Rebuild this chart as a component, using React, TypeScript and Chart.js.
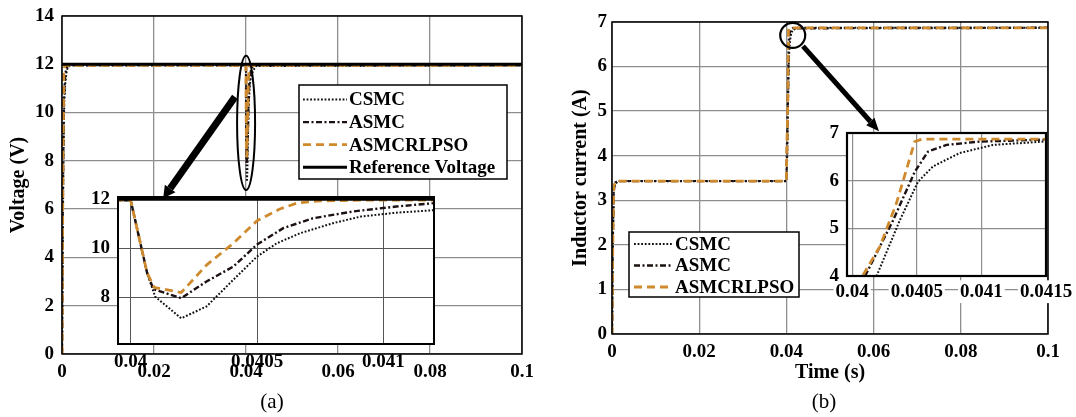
import React, { useEffect, useRef } from 'react';
import { Chart, registerables } from 'chart.js';

Chart.register(...registerables);

const FONT = "'Liberation Serif', 'Times New Roman', serif";

// ---------- Panel (a): output voltage ----------
const csmcVoltT = [0, 0.0003, 0.0005, 0.0007, 0.001, 0.0013, 0.002, 0.04, 0.040065, 0.040097, 0.0402, 0.0403, 0.040406, 0.0405, 0.040578, 0.04067, 0.0408, 0.04091, 0.04105, 0.0412, 0.0416, 0.0422, 0.1];
const csmcVolt = [0, 8, 10.5, 11.2, 11.7, 11.9, 11.96, 11.96, 9.0, 8.02, 7.14, 7.62, 8.71, 9.66, 10.2, 10.61, 11.02, 11.29, 11.45, 11.55, 11.75, 11.93, 11.96];

const asmcVoltT = [0, 0.0002, 0.0004, 0.0007, 0.0012, 0.04, 0.040065, 0.04009, 0.0402, 0.0403, 0.040406, 0.0405, 0.040604, 0.04072, 0.04088, 0.04105, 0.0412, 0.0416, 0.1];
const asmcVolt = [0, 7, 10.5, 11.6, 11.96, 11.96, 9.0, 8.33, 7.96, 8.64, 9.25, 10.15, 10.82, 11.22, 11.5, 11.7, 11.84, 11.96, 11.96];

const rlpsoVoltT = [0, 0.0002, 0.0004, 0.0006, 0.04, 0.040065, 0.040093, 0.0402, 0.040301, 0.040406, 0.0405, 0.04059, 0.04066, 0.04075, 0.0409, 0.1];
const rlpsoVolt = [0, 8, 11.6, 11.96, 11.96, 9.0, 8.4, 8.19, 9.32, 10.2, 11.12, 11.6, 11.85, 11.93, 11.96, 11.96];

const refVoltT = [0, 0.1];
const refVolt = [12, 12];

// ---------- Panel (b): inductor current ----------
const csmcCurT = [0, 0.0002, 0.0004, 0.0008, 0.0015, 0.04, 0.040189, 0.040369, 0.04051, 0.040626, 0.040832, 0.04109, 0.04148, 0.0425, 0.1];
const csmcCur = [0, 2.1, 3.2, 3.38, 3.43, 3.43, 4.0, 5.17, 5.98, 6.3, 6.58, 6.75, 6.82, 6.87, 6.87];

const asmcCurT = [0, 0.0002, 0.0004, 0.0008, 0.0015, 0.04, 0.0401, 0.040317, 0.040485, 0.040587, 0.04073, 0.040987, 0.04147, 0.1];
const asmcCur = [0, 2.2, 3.25, 3.4, 3.43, 3.43, 4.0, 5.17, 6.19, 6.61, 6.75, 6.82, 6.86, 6.87];

const rlpsoCurT = [0, 0.0002, 0.0004, 0.0008, 0.0015, 0.04, 0.04008, 0.040213, 0.040343, 0.04042, 0.040484, 0.04054, 0.1];
const rlpsoCur = [0, 2.3, 3.3, 3.42, 3.43, 3.43, 4.0, 4.61, 5.53, 6.23, 6.82, 6.87, 6.87];

// ---------- Tick labels ----------
const mainTimeTicks = [0, 0.02, 0.04, 0.06, 0.08, 0.1];
const voltTicks = [0, 2, 4, 6, 8, 10, 12, 14];
const curTicks = [0, 1, 2, 3, 4, 5, 6, 7];
const insetATimeTicks = [0.04, 0.0405, 0.041];
const insetAVoltTicks = [8, 10, 12];
const insetBTimeTicks = [0.04, 0.0405, 0.041, 0.0415];
const insetBCurTicks = [4, 5, 6, 7];

// ---------- Styles ----------
const STY: any = {
  CSMC: { color: '#111111', dash: [1.8, 1.8], width: 2 },
  ASMC: { color: '#1c1010', dash: [6, 2.5, 2, 2.5], width: 2.4 },
  RLPSO: { color: '#cf8a2e', dash: [8, 5], width: 2.8 },
  REF: { color: '#000000', dash: [], width: 3 },
};

const MAIN_GRID = { color: '#8e8e8e', width: 1.3 };
const INSET_A_GRID = { color: '#555555', width: 1 };
const INSET_B_GRID = { color: '#8e8e8e', width: 1.2 };

function pts(t: number[], v: number[]) {
  return t.map((x, i) => ({ x, y: v[i] }));
}

function mkDs(label: string, t: number[], v: number[], s: any, order: number) {
  return {
    label,
    data: pts(t, v),
    borderColor: s.color,
    borderDash: s.dash,
    borderWidth: s.width,
    pointRadius: 0,
    tension: 0,
    fill: false,
    order,
    borderCapStyle: 'butt',
    borderJoinStyle: 'round',
  };
}

function axis(o: any) {
  return {
    type: 'linear',
    position: o.vertical ? 'left' : 'bottom',
    min: o.min,
    max: o.max,
    afterBuildTicks: (ax: any) => {
      ax.ticks = o.ticks.map((v: number) => ({ value: v }));
    },
    afterFit: (ax: any) => {
      if (o.vertical) ax.width = o.size;
      else ax.height = o.size;
      ax.paddingTop = 0;
      ax.paddingBottom = 0;
      ax.paddingLeft = 0;
      ax.paddingRight = 0;
    },
    ticks: {
      autoSkip: false,
      maxRotation: 0,
      minRotation: 0,
      padding: o.pad,
      color: '#000',
      font: { family: FONT, size: 19, weight: 'bold' },
      callback: (v: any) => String(v),
      showLabelBackdrop: !!o.backdrop,
      backdropColor: '#ffffff',
      backdropPadding: { top: 0, bottom: 0, left: 2, right: 2 },
    },
    grid: { color: o.grid.color, lineWidth: o.grid.width, drawTicks: false, tickLength: 0 },
    border: { display: false },
    title: o.title
      ? { display: true, text: o.title, color: '#000', font: { family: FONT, size: 20, weight: 'bold' }, padding: o.titlePad }
      : { display: false },
  };
}

const baseOpts = {
  responsive: false,
  maintainAspectRatio: false,
  animation: false,
  devicePixelRatio: 1,
  events: [],
  plugins: { legend: { display: false }, tooltip: { enabled: false }, title: { display: false } },
};

function framePlugin(fillWhole: boolean, frameWidth: number) {
  return {
    id: 'frame',
    beforeDraw(chart: any) {
      const { ctx, chartArea: a } = chart;
      ctx.save();
      ctx.fillStyle = '#ffffff';
      if (fillWhole) ctx.fillRect(0, 0, chart.width, chart.height);
      else ctx.fillRect(a.left, a.top, a.right - a.left, a.bottom - a.top);
      ctx.restore();
    },
    afterDatasetsDraw(chart: any) {
      const { ctx, chartArea: a } = chart;
      ctx.save();
      ctx.strokeStyle = '#000';
      ctx.lineWidth = frameWidth;
      ctx.setLineDash([]);
      ctx.strokeRect(a.left, a.top, a.right - a.left, a.bottom - a.top);
      ctx.restore();
    },
  };
}

function drawArrow(ctx: any, x1: number, y1: number, x2: number, y2: number, w: number, hl: number, hw: number) {
  const ang = Math.atan2(y2 - y1, x2 - x1);
  const c = Math.cos(ang);
  const s = Math.sin(ang);
  const bx = x2 - hl * c;
  const by = y2 - hl * s;
  ctx.save();
  ctx.strokeStyle = '#000';
  ctx.fillStyle = '#000';
  ctx.setLineDash([]);
  ctx.lineWidth = w;
  ctx.lineCap = 'butt';
  ctx.beginPath();
  ctx.moveTo(x1, y1);
  ctx.lineTo(bx, by);
  ctx.stroke();
  ctx.beginPath();
  ctx.moveTo(x2, y2);
  ctx.lineTo(bx + (hw / 2) * s, by - (hw / 2) * c);
  ctx.lineTo(bx - (hw / 2) * s, by + (hw / 2) * c);
  ctx.closePath();
  ctx.fill();
  ctx.restore();
}

function drawLegend(ctx: any, datasets: any[], L: any) {
  ctx.save();
  ctx.fillStyle = '#fff';
  ctx.fillRect(L.x, L.y, L.w, L.h);
  ctx.strokeStyle = '#000';
  ctx.lineWidth = 1.5;
  ctx.setLineDash([]);
  ctx.strokeRect(L.x, L.y, L.w, L.h);
  datasets.forEach((d: any, i: number) => {
    const y = L.row0 + i * L.rowStep;
    ctx.setLineDash(d.borderDash || []);
    ctx.strokeStyle = d.borderColor;
    ctx.lineWidth = d.borderWidth;
    ctx.beginPath();
    ctx.moveTo(L.s0, y);
    ctx.lineTo(L.s1, y);
    ctx.stroke();
    ctx.setLineDash([]);
    ctx.fillStyle = '#000';
    ctx.font = `bold 19px ${FONT}`;
    ctx.textAlign = 'left';
    ctx.textBaseline = 'middle';
    ctx.fillText(d.label, L.tx, y + 1);
  });
  ctx.restore();
}

// annotation anchors (data coordinates)
const ellipseA = { t: 0.04002, v: 9.57, dv: 2.78, rx: 9 };
const arrowA = { t0: 0.0376, v0: 10.65, t1: 0.022, v1: 6.45 };
const circleB = { t: 0.04145, v: 6.7, r: 12.5 };
const arrowB = { t0: 0.0438, v0: 6.46, t1: 0.06124, v1: 4.55 };

const legendA = { x: 299, y: 85, w: 208, h: 94, row0: 99.5, rowStep: 22.6, s0: 303, s1: 347, tx: 349 };
const legendB = { x: 89, y: 232, w: 170, h: 65, row0: 244, rowStep: 21.5, s0: 94, s1: 133, tx: 135 };

const annotA = {
  id: 'annotA',
  afterDraw(chart: any) {
    const { ctx } = chart;
    const x = chart.scales.x;
    const y = chart.scales.y;
    const cx = x.getPixelForValue(ellipseA.t);
    const cy = y.getPixelForValue(ellipseA.v);
    const ry = Math.abs(y.getPixelForValue(ellipseA.v + ellipseA.dv) - cy);
    ctx.save();
    ctx.strokeStyle = '#000';
    ctx.lineWidth = 2;
    ctx.setLineDash([]);
    ctx.beginPath();
    ctx.ellipse(cx, cy, ellipseA.rx, ry, 0, 0, Math.PI * 2);
    ctx.stroke();
    ctx.restore();
    drawArrow(ctx, x.getPixelForValue(arrowA.t0), y.getPixelForValue(arrowA.v0), x.getPixelForValue(arrowA.t1), y.getPixelForValue(arrowA.v1), 7, 12, 13);
    drawLegend(ctx, chart.data.datasets, legendA);
    ctx.save();
    ctx.fillStyle = '#000';
    ctx.font = `21px ${FONT}`;
    ctx.textAlign = 'center';
    ctx.textBaseline = 'middle';
    ctx.fillText('(a)', 272, 402);
    ctx.restore();
  },
};

const annotB = {
  id: 'annotB',
  afterDraw(chart: any) {
    const { ctx } = chart;
    const x = chart.scales.x;
    const y = chart.scales.y;
    ctx.save();
    ctx.strokeStyle = '#000';
    ctx.lineWidth = 2.2;
    ctx.setLineDash([]);
    ctx.beginPath();
    ctx.arc(x.getPixelForValue(circleB.t), y.getPixelForValue(circleB.v), circleB.r, 0, Math.PI * 2);
    ctx.stroke();
    ctx.restore();
    drawArrow(ctx, x.getPixelForValue(arrowB.t0), y.getPixelForValue(arrowB.v0), x.getPixelForValue(arrowB.t1), y.getPixelForValue(arrowB.v1), 5, 13, 11);
    drawLegend(ctx, chart.data.datasets, legendB);
    ctx.save();
    ctx.fillStyle = '#000';
    ctx.font = `21px ${FONT}`;
    ctx.textAlign = 'center';
    ctx.textBaseline = 'middle';
    ctx.fillText('(b)', 284, 402);
    ctx.restore();
  },
};

function voltDatasets() {
  return [
    mkDs('CSMC', csmcVoltT, csmcVolt, STY.CSMC, 3),
    mkDs('ASMC', asmcVoltT, asmcVolt, STY.ASMC, 2),
    mkDs('ASMCRLPSO', rlpsoVoltT, rlpsoVolt, STY.RLPSO, 1),
    mkDs('Reference Voltage', refVoltT, refVolt, STY.REF, 0),
  ];
}

function curDatasets() {
  return [
    mkDs('CSMC', csmcCurT, csmcCur, STY.CSMC, 3),
    mkDs('ASMC', asmcCurT, asmcCur, STY.ASMC, 2),
    mkDs('ASMCRLPSO', rlpsoCurT, rlpsoCur, STY.RLPSO, 1),
  ];
}

function mainAConfig(): any {
  return {
    type: 'line',
    data: { datasets: voltDatasets() },
    options: {
      ...baseOpts,
      layout: { padding: { left: 0, top: 16, right: 18, bottom: 0 } },
      scales: {
        x: axis({ min: 0, max: 0.1, ticks: mainTimeTicks, size: 63, pad: 6.6, grid: MAIN_GRID }),
        y: axis({ vertical: true, min: 0, max: 14, ticks: voltTicks, size: 62, pad: 8, grid: MAIN_GRID, title: 'Voltage (V)', titlePad: { top: 7, bottom: 0 } }),
      },
    },
    plugins: [framePlugin(true, 1.5), annotA],
  };
}

function insetAConfig(): any {
  return {
    type: 'line',
    data: { datasets: voltDatasets() },
    options: {
      ...baseOpts,
      layout: { padding: { left: 0, top: 12, right: 26, bottom: 0 } },
      scales: {
        x: axis({ min: 0.03995, max: 0.0412, ticks: insetATimeTicks, size: 36, pad: 6.6, grid: INSET_A_GRID }),
        y: axis({ vertical: true, min: 6.09, max: 12.09, ticks: insetAVoltTicks, size: 38, pad: 8, grid: INSET_A_GRID }),
      },
    },
    plugins: [framePlugin(false, 2)],
  };
}

function mainBConfig(): any {
  return {
    type: 'line',
    data: { datasets: curDatasets() },
    options: {
      ...baseOpts,
      layout: { padding: { left: 0, top: 22, right: 28, bottom: 0 } },
      scales: {
        x: axis({ min: 0, max: 0.1, ticks: mainTimeTicks, size: 83, pad: 6.6, grid: MAIN_GRID, title: 'Time (s)', titlePad: { top: 0, bottom: 32 } }),
        y: axis({ vertical: true, min: 0, max: 7, ticks: curTicks, size: 72, pad: 5, grid: MAIN_GRID, title: 'Inductor current (A)', titlePad: { top: 29, bottom: 0 } }),
      },
    },
    plugins: [framePlugin(true, 1.5), annotB],
  };
}

function insetBConfig(): any {
  return {
    type: 'line',
    data: { datasets: curDatasets() },
    options: {
      ...baseOpts,
      layout: { padding: { left: 0, top: 13, right: 30, bottom: 0 } },
      scales: {
        x: axis({ min: 0.03996, max: 0.0415, ticks: insetBTimeTicks, size: 34, pad: 4.3, grid: INSET_B_GRID, backdrop: true }),
        y: axis({ vertical: true, min: 4, max: 7, ticks: insetBCurTicks, size: 37, pad: 8, grid: INSET_B_GRID }),
      },
    },
    plugins: [framePlugin(false, 2.2)],
  };
}

export default function App() {
  const aRef = useRef<HTMLCanvasElement>(null);
  const aiRef = useRef<HTMLCanvasElement>(null);
  const bRef = useRef<HTMLCanvasElement>(null);
  const biRef = useRef<HTMLCanvasElement>(null);

  useEffect(() => {
    const charts: Chart[] = [];
    if (aRef.current) charts.push(new Chart(aRef.current, mainAConfig()));
    if (bRef.current) charts.push(new Chart(bRef.current, mainBConfig()));
    if (aiRef.current) charts.push(new Chart(aiRef.current, insetAConfig()));
    if (biRef.current) charts.push(new Chart(biRef.current, insetBConfig()));
    return () => charts.forEach((c) => c.destroy());
  }, []);

  return (
    <div style={{ position: 'absolute', left: 0, top: 0, width: 1076, height: 417, background: '#fff', overflow: 'hidden' }}>
      <canvas ref={aRef} width={540} height={417} style={{ position: 'absolute', left: 0, top: 0, width: 540, height: 417 }} />
      <canvas ref={bRef} width={536} height={417} style={{ position: 'absolute', left: 540, top: 0, width: 536, height: 417 }} />
      <canvas ref={aiRef} width={380} height={195} style={{ position: 'absolute', left: 80, top: 185, width: 380, height: 195 }} />
      <canvas ref={biRef} width={266} height={190} style={{ position: 'absolute', left: 810, top: 120, width: 266, height: 190 }} />
    </div>
  );
}
